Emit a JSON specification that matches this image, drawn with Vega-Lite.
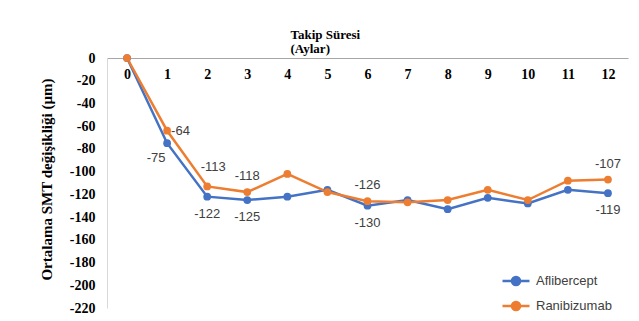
{
  "$schema": "https://vega.github.io/schema/vega-lite/v6.json",
  "width": 521,
  "height": 250,
  "autosize": "none",
  "padding": {"left": 107, "top": 58, "right": 11, "bottom": 13},
  "background": "white",
  "config": {"view": {"stroke": null}},
  "data": {
    "values": [
      {"month": 0, "series": "Aflibercept", "value": 0},
      {"month": 1, "series": "Aflibercept", "value": -75},
      {"month": 2, "series": "Aflibercept", "value": -122},
      {"month": 3, "series": "Aflibercept", "value": -125},
      {"month": 4, "series": "Aflibercept", "value": -122},
      {"month": 5, "series": "Aflibercept", "value": -116},
      {"month": 6, "series": "Aflibercept", "value": -130},
      {"month": 7, "series": "Aflibercept", "value": -125},
      {"month": 8, "series": "Aflibercept", "value": -133},
      {"month": 9, "series": "Aflibercept", "value": -123},
      {"month": 10, "series": "Aflibercept", "value": -128},
      {"month": 11, "series": "Aflibercept", "value": -116},
      {"month": 12, "series": "Aflibercept", "value": -119},
      {"month": 0, "series": "Ranibizumab", "value": 0},
      {"month": 1, "series": "Ranibizumab", "value": -64},
      {"month": 2, "series": "Ranibizumab", "value": -113},
      {"month": 3, "series": "Ranibizumab", "value": -118},
      {"month": 4, "series": "Ranibizumab", "value": -102},
      {"month": 5, "series": "Ranibizumab", "value": -118},
      {"month": 6, "series": "Ranibizumab", "value": -126},
      {"month": 7, "series": "Ranibizumab", "value": -127},
      {"month": 8, "series": "Ranibizumab", "value": -125},
      {"month": 9, "series": "Ranibizumab", "value": -116},
      {"month": 10, "series": "Ranibizumab", "value": -125},
      {"month": 11, "series": "Ranibizumab", "value": -108},
      {"month": 12, "series": "Ranibizumab", "value": -107}
    ]
  },
  "encoding": {
    "x": {
      "field": "month",
      "type": "quantitative",
      "scale": {"domain": [-0.5, 12.5], "nice": false, "zero": false},
      "axis": {
        "orient": "bottom",
        "offset": -250,
        "values": [0, 1, 2, 3, 4, 5, 6, 7, 8, 9, 10, 11, 12],
        "ticks": false,
        "grid": false,
        "domainColor": "#A6A6A6",
        "domainWidth": 1,
        "labelFont": "Liberation Serif",
        "labelFontWeight": "bold",
        "labelFontSize": 14,
        "labelColor": "black",
        "labelPadding": 9,
        "title": ["Takip Süresi", "(Aylar)"],
        "titleFont": "Liberation Serif",
        "titleFontSize": 13,
        "titleFontWeight": "bold",
        "titleColor": "black",
        "titleX": 183,
        "titleY": -20,
        "titleAlign": "left",
        "titleBaseline": "alphabetic",
        "titleLineHeight": 14
      }
    },
    "y": {
      "field": "value",
      "type": "quantitative",
      "scale": {"domain": [-220, 0], "nice": false},
      "axis": {
        "values": [0, -20, -40, -60, -80, -100, -120, -140, -160, -180, -200, -220],
        "labelExpr": "replace(datum.label, '\u2212', '-')",
        "ticks": false,
        "grid": false,
        "domainColor": "#D9D9D9",
        "labelFont": "Liberation Serif",
        "labelFontWeight": "bold",
        "labelFontSize": 14,
        "labelColor": "black",
        "labelPadding": 12,
        "title": "Ortalama SMT değişikliği (µm)",
        "titleFont": "Liberation Serif",
        "titleFontSize": 15,
        "titleFontWeight": "bold",
        "titleColor": "black",
        "titleAngle": -90,
        "titleX": -61,
        "titleY": 121,
        "titleAlign": "center",
        "titleBaseline": "middle"
      }
    },
    "color": {
      "field": "series",
      "type": "nominal",
      "scale": {"domain": ["Aflibercept", "Ranibizumab"], "range": ["#4472C4", "#ED7D31"]},
      "legend": {
        "title": null,
        "orient": "none",
        "legendX": 401,
        "legendY": 215,
        "symbolType": "M-2,0L2,0M-0.6,0A0.6,0.6 0 1,1 0.6,0A0.6,0.6 0 1,1 -0.6,0Z",
        "symbolSize": 182,
        "symbolStrokeWidth": 2.5,
        "symbolOpacity": 1,
        "labelFont": "Liberation Sans",
        "labelFontSize": 13,
        "labelColor": "#404040",
        "labelOffset": 12,
        "rowPadding": 5,
        "encode": {
          "symbols": {
            "update": {
              "stroke": {"scale": "color", "field": "value"},
              "fill": {"scale": "color", "field": "value"},
              "strokeWidth": {"value": 2.5},
              "opacity": {"value": 1}
            }
          }
        }
      }
    }
  },
  "layer": [
    {
      "mark": {"type": "line", "strokeWidth": 2.5}
    },
    {
      "mark": {"type": "point", "filled": true, "size": 60, "opacity": 1}
    },
    {
      "transform": [
        {"filter": {"field": "series", "equal": "Aflibercept"}},
        {"filter": {"field": "month", "oneOf": [2, 3, 6, 12]}}
      ],
      "mark": {"type": "text", "dy": 17, "font": "Liberation Sans", "fontSize": 13, "color": "#404040"},
      "encoding": {"text": {"field": "value", "type": "nominal"}, "color": {"value": "#404040"}}
    },
    {
      "transform": [
        {"filter": {"field": "series", "equal": "Aflibercept"}},
        {"filter": {"field": "month", "equal": 1}}
      ],
      "mark": {"type": "text", "dy": 15, "dx": -11, "font": "Liberation Sans", "fontSize": 13, "color": "#404040"},
      "encoding": {"text": {"field": "value", "type": "nominal"}, "color": {"value": "#404040"}}
    },
    {
      "transform": [
        {"filter": {"field": "series", "equal": "Ranibizumab"}},
        {"filter": {"field": "month", "oneOf": [3, 6, 12]}}
      ],
      "mark": {"type": "text", "dy": -16, "font": "Liberation Sans", "fontSize": 13, "color": "#404040"},
      "encoding": {"text": {"field": "value", "type": "nominal"}, "color": {"value": "#404040"}}
    },
    {
      "transform": [
        {"filter": {"field": "series", "equal": "Ranibizumab"}},
        {"filter": {"field": "month", "equal": 2}}
      ],
      "mark": {"type": "text", "dy": -19, "dx": 6, "font": "Liberation Sans", "fontSize": 13, "color": "#404040"},
      "encoding": {"text": {"field": "value", "type": "nominal"}, "color": {"value": "#404040"}}
    },
    {
      "transform": [
        {"filter": {"field": "series", "equal": "Ranibizumab"}},
        {"filter": {"field": "month", "equal": 1}}
      ],
      "mark": {"type": "text", "dx": 4, "align": "left", "font": "Liberation Sans", "fontSize": 13, "color": "#404040"},
      "encoding": {"text": {"field": "value", "type": "nominal"}, "color": {"value": "#404040"}}
    }
  ]
}
